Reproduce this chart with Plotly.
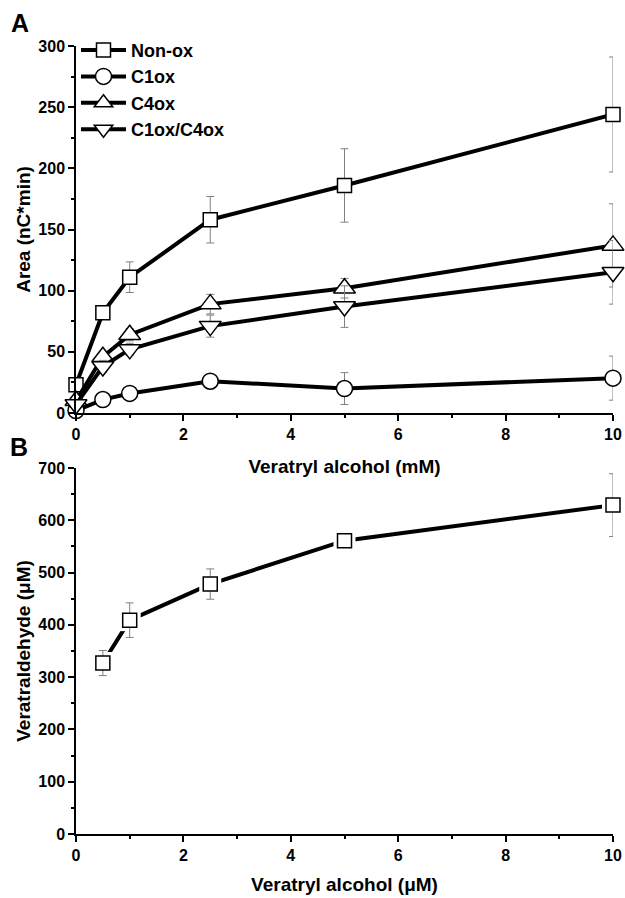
import plotly.graph_objects as go
from plotly.subplots import make_subplots

# ---- data ----
x_a = [0, 0.5, 1, 2.5, 5, 10]
nonox = [23, 82, 111, 158, 186, 244]
nonox_err = [3, 3, 12.5, 19, 30, 47]
c1ox = [2, 11, 16, 26, 20, 28.5]
c1ox_err = [2, 3, 3, 2, 13, 18]
c4ox = [10, 46, 64, 89, 102, 137]
c4ox_err = [3, 4, 5, 8, 8, 34]
c14ox = [7, 38, 52, 71, 87, 115]
c14ox_err = [2, 5, 5, 9, 17, 26]

x_b = [0.5, 1, 2.5, 5, 10]
veratraldehyde = [327, 409, 478, 561, 629]
veratraldehyde_err = [24, 33, 29, 5, 60]

FONT = "Liberation Sans, Arial, sans-serif"
TICK_SIZE = 16
TITLE_SIZE = 19

fig = make_subplots(rows=2, cols=1, vertical_spacing=0.07)

series = [
    ("Non-ox", nonox, nonox_err, "square", 14),
    ("C1ox", c1ox, c1ox_err, "circle", 16),
    ("C4ox", c4ox, c4ox_err, "triangle-up", 19),
    ("C1ox/C4ox", c14ox, c14ox_err, "triangle-down", 19),
]
for name, ys, errs, sym, sz in series:
    fig.add_trace(go.Scatter(
        x=x_a, y=ys, name=name, mode="lines+markers",
        line=dict(color="black", width=4),
        marker=dict(symbol=sym, size=sz, color="white",
                    line=dict(color="black", width=1.5)),
        error_y=dict(type="data", array=errs, visible=True,
                     color="#808080", thickness=1, width=4),
        cliponaxis=False,
    ), row=1, col=1)

# panel B: line, white mask (gap around markers), then markers with error bars
fig.add_trace(go.Scatter(
    x=x_b, y=veratraldehyde, mode="lines", showlegend=False,
    line=dict(color="black", width=4), hoverinfo="skip",
), row=2, col=1)
fig.add_trace(go.Scatter(
    x=x_b, y=veratraldehyde, mode="markers", showlegend=False,
    marker=dict(symbol="square", size=22, color="white", line=dict(width=0)),
    hoverinfo="skip", cliponaxis=False,
), row=2, col=1)
fig.add_trace(go.Scatter(
    x=x_b, y=veratraldehyde, name="Veratraldehyde", mode="markers",
    showlegend=False,
    marker=dict(symbol="square", size=14, color="white",
                line=dict(color="black", width=1.5)),
    error_y=dict(type="data", array=veratraldehyde_err, visible=True,
                 color="#808080", thickness=1, width=4),
    cliponaxis=False,
), row=2, col=1)

axis_common = dict(
    showline=True, linecolor="black", linewidth=1.5,
    ticks="outside", ticklen=6, tickwidth=1.5, tickcolor="black",
    showgrid=False, zeroline=False, mirror=False, automargin=False,
    tickfont=dict(family=FONT, size=TICK_SIZE, color="black", weight="bold"),
)
minor_common = dict(ticks="outside", ticklen=3, tickwidth=1.5, tickcolor="black")

fig.update_xaxes(**axis_common, range=[0, 10], dtick=2,
                 minor=dict(dtick=1, **minor_common))
fig.update_yaxes(**axis_common)

title_font = dict(family=FONT, size=TITLE_SIZE, color="black", weight="bold")
fig.update_yaxes(range=[0, 300], dtick=50, minor=dict(dtick=25, **minor_common),
                 title=dict(text="Area (nC*min)", standoff=3, font=title_font),
                 row=1, col=1)
fig.update_yaxes(range=[0, 700], dtick=100, minor=dict(dtick=50, **minor_common),
                 title=dict(text="Veratraldehyde (μM)", standoff=3, font=title_font),
                 row=2, col=1)
fig.update_xaxes(title=dict(text="Veratryl alcohol (mM)", standoff=18, font=title_font),
                 row=1, col=1)
fig.update_xaxes(title=dict(text="Veratryl alcohol (μM)", standoff=15, font=title_font),
                 row=2, col=1)

W, H = 625, 898
l, r, t, b = 76, 12, 46, 64
pw, ph = W - l - r, H - t - b

label_font = dict(family=FONT, size=25, color="black", weight="bold")
fig.update_layout(
    width=W, height=H,
    margin=dict(l=l, r=r, t=t, b=b, autoexpand=False),
    paper_bgcolor="white", plot_bgcolor="white",
    showlegend=True,
    legend=dict(x=0.0, y=1.018, xanchor="left", yanchor="top",
                bgcolor="rgba(0,0,0,0)", tracegroupgap=0, itemwidth=45,
                font=dict(family=FONT, size=18, color="black", weight="bold")),
    annotations=[
        dict(text="A", x=(20 - l) / pw, y=1 - (23 - t) / ph, xref="paper", yref="paper",
             xanchor="center", yanchor="middle", showarrow=False, font=label_font),
        dict(text="B", x=(19 - l) / pw, y=1 - (447 - t) / ph, xref="paper", yref="paper",
             xanchor="center", yanchor="middle", showarrow=False, font=label_font),
    ],
    yaxis=dict(domain=[1 - (413 - t) / ph, 1]),
    yaxis2=dict(domain=[0, 1 - (468 - t) / ph]),
)

fig.write_html("out.html")
